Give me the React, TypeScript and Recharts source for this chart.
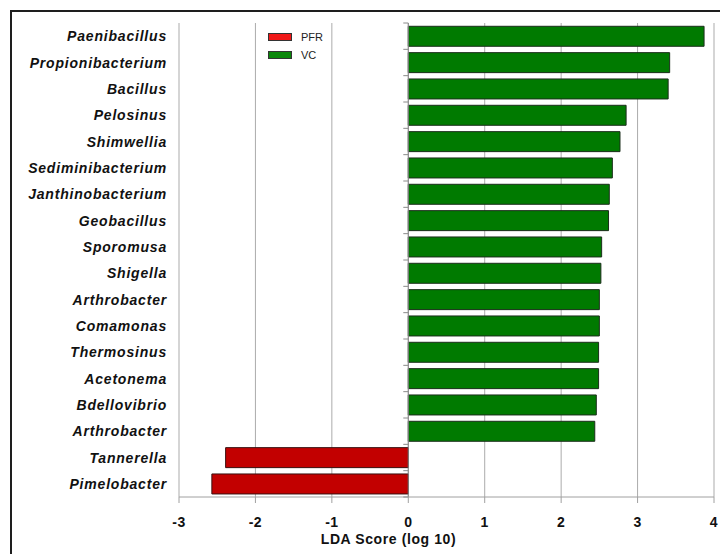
import React from "react";
import {
  BarChart,
  Bar,
  XAxis,
  YAxis,
  CartesianGrid,
  ReferenceLine,
} from "recharts";

const TAXA = [
  "Paenibacillus",
  "Propionibacterium",
  "Bacillus",
  "Pelosinus",
  "Shimwellia",
  "Sediminibacterium",
  "Janthinobacterium",
  "Geobacillus",
  "Sporomusa",
  "Shigella",
  "Arthrobacter",
  "Comamonas",
  "Thermosinus",
  "Acetonema",
  "Bdellovibrio",
  "Arthrobacter",
  "Tannerella",
  "Pimelobacter",
];

// LDA scores per group (null where the taxon belongs to the other group)
const VC_SCORES = [
  3.87, 3.42, 3.4, 2.85, 2.77, 2.67, 2.63, 2.62, 2.53, 2.52, 2.5, 2.5, 2.49,
  2.49, 2.46, 2.44, null, null,
];
const PFR_SCORES = [
  null, null, null, null, null, null, null, null, null, null, null, null, null,
  null, null, null, -2.39, -2.57,
];

const X_TICKS = [-3, -2, -1, 0, 1, 2, 3, 4];

const data = TAXA.map((name, i) => ({
  idx: i,
  name,
  PFR: PFR_SCORES[i],
  VC: VC_SCORES[i],
}));

const WIDTH = 720;
const HEIGHT = 546;
const MARGIN = { top: 15, right: 14, left: 0, bottom: 0 };
const Y_AXIS_W = 171;
const X_AXIS_H = 57;
const PLOT_LEFT = MARGIN.left + Y_AXIS_W;
const PLOT_W = WIDTH - PLOT_LEFT - MARGIN.right;
const PLOT_H = HEIGHT - MARGIN.top - MARGIN.bottom - X_AXIS_H;
const BAND = PLOT_H / TAXA.length;
const ZERO_X = PLOT_LEFT + ((0 - X_TICKS[0]) / (X_TICKS[X_TICKS.length - 1] - X_TICKS[0])) * PLOT_W;

const FONT = "Arial, 'Liberation Sans', sans-serif";

const TaxonTick = (props: any) => {
  const { x, y, payload, index } = props;
  const last = index === TAXA.length - 1;
  return (
    <g>
      <text
        x={x}
        y={y}
        dy="0.36em"
        textAnchor="end"
        fontFamily={FONT}
        fontSize={14}
        fontWeight="bold"
        fontStyle="italic"
        letterSpacing={0.8}
        fill="#111"
      >
        {TAXA[payload.value]}
      </text>
      <line x1={ZERO_X - 5} x2={ZERO_X} y1={y - BAND / 2} y2={y - BAND / 2} stroke="#8a8a8a" />
      {last && (
        <line x1={ZERO_X - 5} x2={ZERO_X} y1={y + BAND / 2} y2={y + BAND / 2} stroke="#8a8a8a" />
      )}
    </g>
  );
};

const ScoreTick = (props: any) => {
  const { x, y, payload } = props;
  return (
    <text
      x={x}
      y={y}
      dy="0.71em"
      textAnchor="middle"
      fontFamily={FONT}
      fontSize={14}
      fontWeight="bold"
      letterSpacing={0.5}
      fill="#111"
    >
      {payload.value}
    </text>
  );
};

function GroupLegend() {
  const item = (color: string, label: string, top: number) => (
    <div style={{ position: "absolute", left: 260, top, display: "flex", alignItems: "center" }}>
      <div
        style={{
          width: 22,
          height: 6,
          background: color,
          border: "1px solid #333",
        }}
      />
      <span style={{ marginLeft: 9, fontFamily: FONT, fontSize: 11, color: "#222", lineHeight: "12px" }}>
        {label}
      </span>
    </div>
  );
  return (
    <>
      {item("#f01818", "PFR", 23)}
      {item("#0b870b", "VC", 41)}
    </>
  );
}

export default function App() {
  return (
    <div style={{ position: "relative", width: WIDTH, height: HEIGHT, overflow: "hidden", background: "#fff" }}>
      <div
        style={{
          position: "absolute",
          left: 2,
          top: 2,
          width: 1000,
          height: 1000,
          borderLeft: "2px solid #1e1e1e",
          borderTop: "2px solid #1e1e1e",
        }}
      />
      <BarChart
        width={WIDTH}
        height={HEIGHT}
        data={data}
        layout="vertical"
        margin={MARGIN}
        barCategoryGap="12.5%"
        stackOffset="sign"
      >
        <CartesianGrid horizontal={false} stroke="#ababab" />
        <XAxis
          type="number"
          domain={[X_TICKS[0], X_TICKS[X_TICKS.length - 1]]}
          ticks={X_TICKS}
          height={X_AXIS_H}
          axisLine={{ stroke: "#a0a0a0" }}
          tickLine={{ stroke: "#a0a0a0" }}
          tickSize={6}
          tickMargin={14}
          tick={<ScoreTick />}
          label={{
            value: "LDA Score (log 10)",
            position: "insideBottom",
            offset: 10,
            dx: -58,
            fontFamily: FONT,
            fontSize: 14,
            fontWeight: "bold",
            letterSpacing: 0.6,
            fill: "#111",
          }}
        />
        <YAxis
          type="category"
          dataKey="idx"
          width={Y_AXIS_W}
          axisLine={false}
          tickLine={false}
          tickMargin={6}
          interval={0}
          tick={<TaxonTick />}
        />
        <ReferenceLine x={0} stroke="#8a8a8a" />
        <Bar dataKey="PFR" stackId="lda" fill="#c20000" stroke="#3a1010" strokeWidth={1} isAnimationActive={false} />
        <Bar dataKey="VC" stackId="lda" fill="#007a00" stroke="#1b2e1b" strokeWidth={1} isAnimationActive={false} />
      </BarChart>
      <GroupLegend />
    </div>
  );
}
